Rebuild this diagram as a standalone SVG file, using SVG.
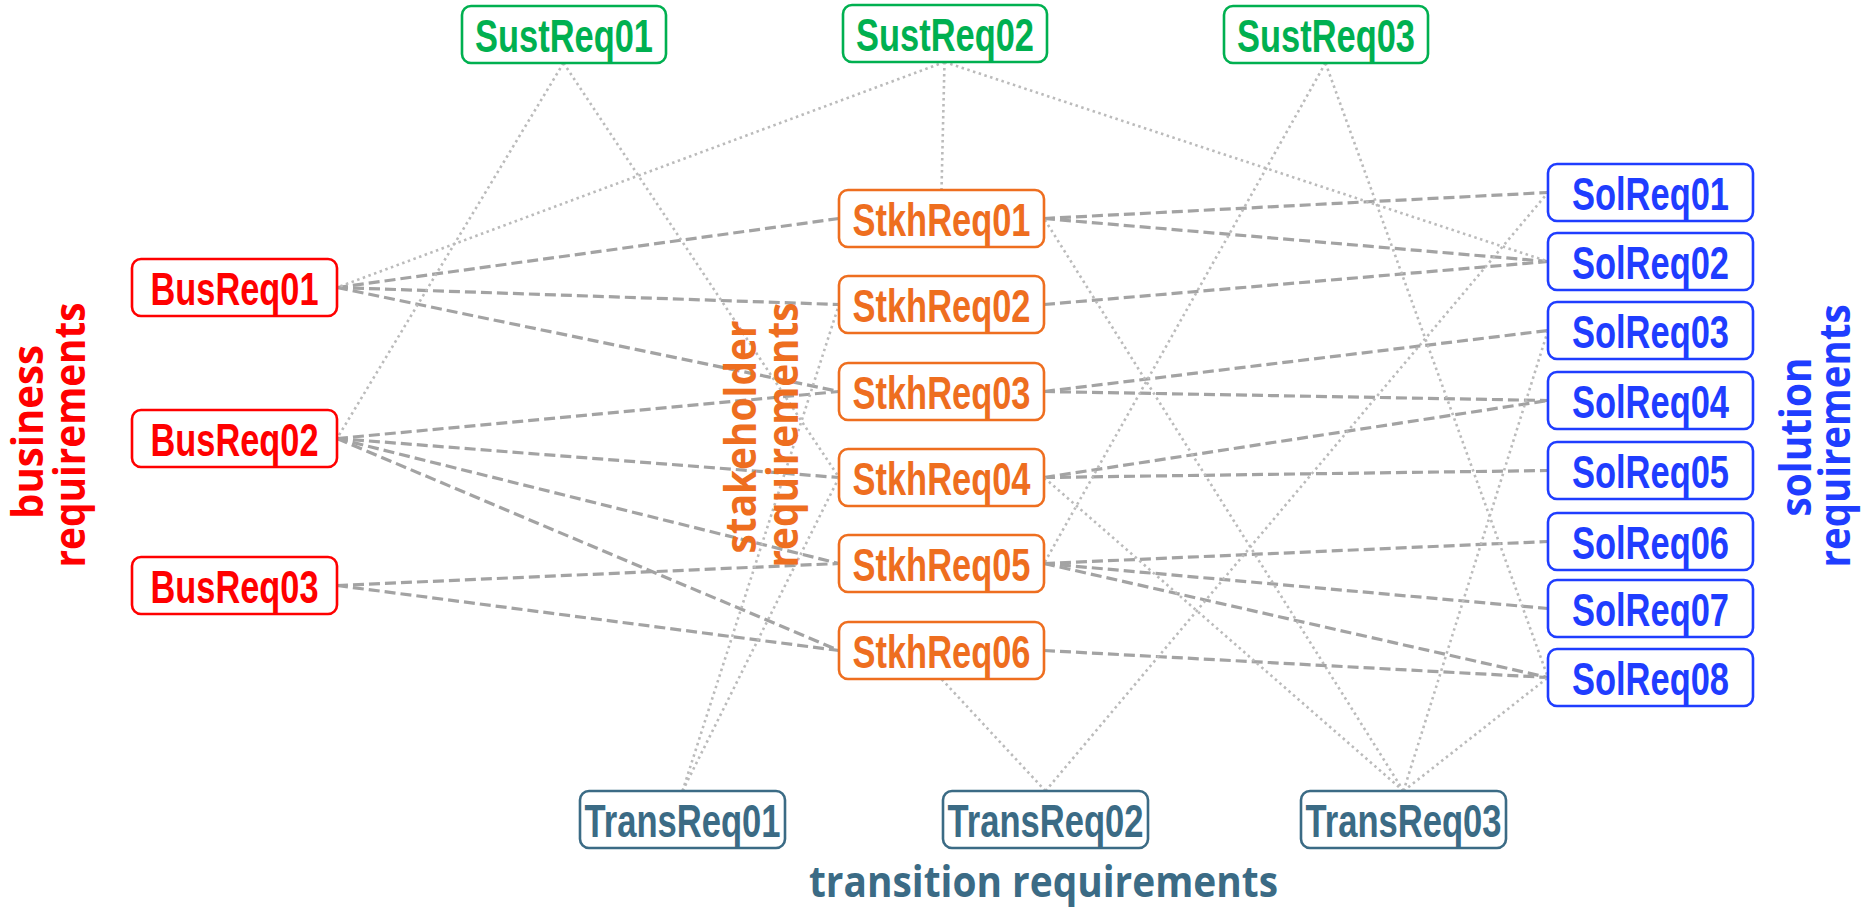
<svg xmlns="http://www.w3.org/2000/svg" width="1864" height="908" viewBox="0 0 1864 908">
<style>
.box{fill:#fff;stroke-width:2.6}
.lbl{font-family:"Liberation Sans Narrow","Liberation Sans",Arial,sans-serif;font-weight:bold;font-size:47px;text-anchor:middle}
.grp{font-family:"Open Sans","DejaVu Sans",sans-serif;font-weight:bold;font-size:43px;text-anchor:middle}
.dash{stroke:#A3A3A3;stroke-width:3.2;stroke-dasharray:11 5;fill:none}
.dot{stroke:#BBBBBB;stroke-width:2.6;stroke-dasharray:2.5 3.5;fill:none}
.sust .box{stroke:#00B050}.sust text{fill:#00B050}
.bus .box{stroke:#FF0000}.bus text{fill:#FF0000}
.stkh .box{stroke:#EE6E1F}.stkh text{fill:#EE6E1F}
.sol .box{stroke:#1F3DFF}.sol text{fill:#1F3DFF}
.trans .box{stroke:#3B6B85}.trans text{fill:#3B6B85}
</style>
<rect width="1864" height="908" fill="#fff"/>
<g id="connectors">
<g class="dash">
<line x1="337" y1="287.5" x2="839" y2="218.5"/>
<line x1="337" y1="287.5" x2="839" y2="304.5"/>
<line x1="337" y1="287.5" x2="839" y2="391.5"/>
<line x1="337" y1="438.5" x2="839" y2="391.5"/>
<line x1="337" y1="438.5" x2="839" y2="477.5"/>
<line x1="337" y1="438.5" x2="839" y2="563.5"/>
<line x1="337" y1="438.5" x2="839" y2="650.5"/>
<line x1="337" y1="585.5" x2="839" y2="563.5"/>
<line x1="337" y1="585.5" x2="839" y2="650.5"/>
<line x1="1044" y1="218.5" x2="1548" y2="192.5"/>
<line x1="1044" y1="218.5" x2="1548" y2="261.5"/>
<line x1="1044" y1="304.5" x2="1548" y2="261.5"/>
<line x1="1044" y1="391.5" x2="1548" y2="330.5"/>
<line x1="1044" y1="391.5" x2="1548" y2="400.5"/>
<line x1="1044" y1="477.5" x2="1548" y2="400.5"/>
<line x1="1044" y1="477.5" x2="1548" y2="470.5"/>
<line x1="1044" y1="563.5" x2="1548" y2="541.5"/>
<line x1="1044" y1="563.5" x2="1548" y2="608.5"/>
<line x1="1044" y1="563.5" x2="1548" y2="677.5"/>
<line x1="1044" y1="650.5" x2="1548" y2="677.5"/>
</g>
<g class="dot">
<line x1="563.5" y1="63" x2="337" y2="438.5"/>
<line x1="563.5" y1="63" x2="839" y2="477.5"/>
<line x1="944.5" y1="62" x2="337" y2="287.5"/>
<line x1="944.5" y1="62" x2="941.5" y2="190"/>
<line x1="944.5" y1="62" x2="1548" y2="261.5"/>
<line x1="1325.5" y1="63" x2="1044" y2="563.5"/>
<line x1="1325.5" y1="63" x2="1548" y2="677.5"/>
<line x1="682.5" y1="791" x2="839" y2="304.5"/>
<line x1="682.5" y1="791" x2="839" y2="477.5"/>
<line x1="1045.5" y1="791" x2="941.5" y2="679"/>
<line x1="1045.5" y1="791" x2="1548" y2="192.5"/>
<line x1="1403.5" y1="791" x2="1044" y2="218.5"/>
<line x1="1403.5" y1="791" x2="1044" y2="477.5"/>
<line x1="1403.5" y1="791" x2="1548" y2="330.5"/>
<line x1="1403.5" y1="791" x2="1548" y2="677.5"/>
</g>
</g>
<g class="sust">
<g id="SustReq01"><rect class="box" x="462" y="6" width="204" height="57" rx="9"/><text class="lbl" x="564" y="52" textLength="178" lengthAdjust="spacingAndGlyphs">SustReq01</text></g>
<g id="SustReq02"><rect class="box" x="843" y="5" width="204" height="57" rx="9"/><text class="lbl" x="945" y="51" textLength="178" lengthAdjust="spacingAndGlyphs">SustReq02</text></g>
<g id="SustReq03"><rect class="box" x="1224" y="6" width="204" height="57" rx="9"/><text class="lbl" x="1326" y="52" textLength="178" lengthAdjust="spacingAndGlyphs">SustReq03</text></g>
</g>
<g class="bus">
<g id="BusReq01"><rect class="box" x="132" y="259" width="205" height="57" rx="9"/><text class="lbl" x="234.5" y="305" textLength="168" lengthAdjust="spacingAndGlyphs">BusReq01</text></g>
<g id="BusReq02"><rect class="box" x="132" y="410" width="205" height="57" rx="9"/><text class="lbl" x="234.5" y="456" textLength="168" lengthAdjust="spacingAndGlyphs">BusReq02</text></g>
<g id="BusReq03"><rect class="box" x="132" y="557" width="205" height="57" rx="9"/><text class="lbl" x="234.5" y="603" textLength="168" lengthAdjust="spacingAndGlyphs">BusReq03</text></g>
</g>
<g class="stkh">
<g id="StkhReq01"><rect class="box" x="839" y="190" width="205" height="57" rx="9"/><text class="lbl" x="941.5" y="236" textLength="178" lengthAdjust="spacingAndGlyphs">StkhReq01</text></g>
<g id="StkhReq02"><rect class="box" x="839" y="276" width="205" height="57" rx="9"/><text class="lbl" x="941.5" y="322" textLength="178" lengthAdjust="spacingAndGlyphs">StkhReq02</text></g>
<g id="StkhReq03"><rect class="box" x="839" y="363" width="205" height="57" rx="9"/><text class="lbl" x="941.5" y="409" textLength="178" lengthAdjust="spacingAndGlyphs">StkhReq03</text></g>
<g id="StkhReq04"><rect class="box" x="839" y="449" width="205" height="57" rx="9"/><text class="lbl" x="941.5" y="495" textLength="178" lengthAdjust="spacingAndGlyphs">StkhReq04</text></g>
<g id="StkhReq05"><rect class="box" x="839" y="535" width="205" height="57" rx="9"/><text class="lbl" x="941.5" y="581" textLength="178" lengthAdjust="spacingAndGlyphs">StkhReq05</text></g>
<g id="StkhReq06"><rect class="box" x="839" y="622" width="205" height="57" rx="9"/><text class="lbl" x="941.5" y="668" textLength="178" lengthAdjust="spacingAndGlyphs">StkhReq06</text></g>
</g>
<g class="sol">
<g id="SolReq01"><rect class="box" x="1548" y="164" width="205" height="57" rx="9"/><text class="lbl" x="1650.5" y="210" textLength="157" lengthAdjust="spacingAndGlyphs">SolReq01</text></g>
<g id="SolReq02"><rect class="box" x="1548" y="233" width="205" height="57" rx="9"/><text class="lbl" x="1650.5" y="279" textLength="157" lengthAdjust="spacingAndGlyphs">SolReq02</text></g>
<g id="SolReq03"><rect class="box" x="1548" y="302" width="205" height="57" rx="9"/><text class="lbl" x="1650.5" y="348" textLength="157" lengthAdjust="spacingAndGlyphs">SolReq03</text></g>
<g id="SolReq04"><rect class="box" x="1548" y="372" width="205" height="57" rx="9"/><text class="lbl" x="1650.5" y="418" textLength="157" lengthAdjust="spacingAndGlyphs">SolReq04</text></g>
<g id="SolReq05"><rect class="box" x="1548" y="442" width="205" height="57" rx="9"/><text class="lbl" x="1650.5" y="488" textLength="157" lengthAdjust="spacingAndGlyphs">SolReq05</text></g>
<g id="SolReq06"><rect class="box" x="1548" y="513" width="205" height="57" rx="9"/><text class="lbl" x="1650.5" y="559" textLength="157" lengthAdjust="spacingAndGlyphs">SolReq06</text></g>
<g id="SolReq07"><rect class="box" x="1548" y="580" width="205" height="57" rx="9"/><text class="lbl" x="1650.5" y="626" textLength="157" lengthAdjust="spacingAndGlyphs">SolReq07</text></g>
<g id="SolReq08"><rect class="box" x="1548" y="649" width="205" height="57" rx="9"/><text class="lbl" x="1650.5" y="695" textLength="157" lengthAdjust="spacingAndGlyphs">SolReq08</text></g>
</g>
<g class="trans">
<g id="TransReq01"><rect class="box" x="580" y="791" width="205" height="57" rx="9"/><text class="lbl" x="682.5" y="837" textLength="196" lengthAdjust="spacingAndGlyphs">TransReq01</text></g>
<g id="TransReq02"><rect class="box" x="943" y="791" width="205" height="57" rx="9"/><text class="lbl" x="1045.5" y="837" textLength="196" lengthAdjust="spacingAndGlyphs">TransReq02</text></g>
<g id="TransReq03"><rect class="box" x="1301" y="791" width="205" height="57" rx="9"/><text class="lbl" x="1403.5" y="837" textLength="196" lengthAdjust="spacingAndGlyphs">TransReq03</text></g>
</g>
<g id="group-labels" class="grp">
<text transform="translate(43,432) rotate(-90)" fill="#FF0000" textLength="174" lengthAdjust="spacingAndGlyphs">business</text>
<text transform="translate(85,435) rotate(-90)" fill="#FF0000" textLength="265" lengthAdjust="spacingAndGlyphs">requirements</text>
<text transform="translate(756,437) rotate(-90)" fill="#EE6E1F" textLength="233" lengthAdjust="spacingAndGlyphs">stakeholder</text>
<text transform="translate(798,435) rotate(-90)" fill="#EE6E1F" textLength="265" lengthAdjust="spacingAndGlyphs">requirements</text>
<text transform="translate(1811,437) rotate(-90)" fill="#1F3DFF" textLength="159" lengthAdjust="spacingAndGlyphs">solution</text>
<text transform="translate(1850,436) rotate(-90)" fill="#1F3DFF" textLength="263" lengthAdjust="spacingAndGlyphs">requirements</text>
<text x="1043.5" y="897" fill="#3B6B85" textLength="469" lengthAdjust="spacingAndGlyphs">transition requirements</text>
</g>
</svg>
